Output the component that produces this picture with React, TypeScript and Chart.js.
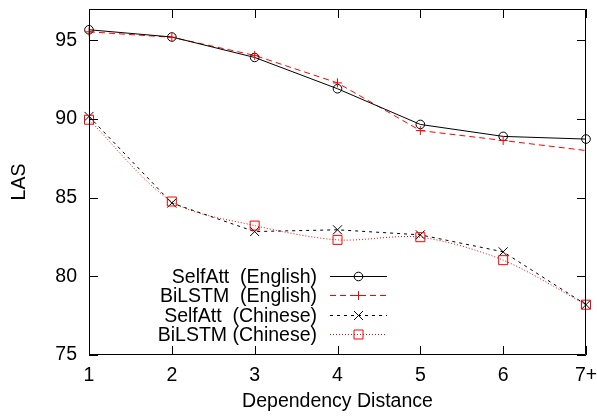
import React, { useEffect, useRef } from "react";
import { Chart, registerables } from "chart.js";

Chart.register(...registerables);

const distances = [1, 2, 3, 4, 5, 6, 7];
const xTickLabels = ["1", "2", "3", "4", "5", "6", "7+"];
const yTicks = [75, 80, 85, 90, 95];
const selfAttEnglish = [95.68, 95.22, 93.92, 91.93, 89.66, 88.9, 88.73];
const biLstmEnglish = [95.55, 95.2, 94.05, 92.3, 89.27, 88.64, 88.0];
const selfAttChinese = [90.17, 84.66, 82.85, 82.96, 82.64, 81.56, 78.2];
const biLstmChinese = [89.96, 84.76, 83.23, 82.32, 82.49, 81.03, 78.2];
const legendLabels = ["SelfAtt  (English)", "BiLSTM  (English)", "SelfAtt  (Chinese)", "BiLSTM (Chinese)"];

const FONT = "'Liberation Sans', Arial, Helvetica, sans-serif";
const FS = 19.5;
const RED = "#ff0000";
const BLACK = "#000000";

const seriesStyles = [
  { color: BLACK, dash: [] as number[], marker: "circle", data: selfAttEnglish, skip: [] as number[] },
  { color: RED, dash: [6, 4], marker: "plus", data: biLstmEnglish, skip: [6] },
  { color: BLACK, dash: [3, 4], marker: "x", data: selfAttChinese, skip: [] as number[] },
  { color: RED, dash: [1, 2], marker: "square", data: biLstmChinese, skip: [] as number[] },
];

function drawMarker(ctx: CanvasRenderingContext2D, kind: string, x: number, y: number, color: string) {
  ctx.save();
  ctx.setLineDash([]);
  ctx.strokeStyle = color;
  ctx.lineWidth = 1;
  ctx.beginPath();
  if (kind === "circle") {
    ctx.arc(x, y, 4.3, 0, Math.PI * 2);
  } else if (kind === "plus") {
    ctx.moveTo(x - 4.5, y);
    ctx.lineTo(x + 4.5, y);
    ctx.moveTo(x, y - 4.5);
    ctx.lineTo(x, y + 4.5);
  } else if (kind === "x") {
    ctx.moveTo(x - 4.5, y - 4.5);
    ctx.lineTo(x + 4.5, y + 4.5);
    ctx.moveTo(x - 4.5, y + 4.5);
    ctx.lineTo(x + 4.5, y - 4.5);
  } else {
    ctx.rect(x - 4.5, y - 4.5, 9, 9);
  }
  ctx.stroke();
  ctx.restore();
}

const framePlugin = {
  id: "gnuFrame",
  afterDatasetsDraw(chart: any) {
    const ctx: CanvasRenderingContext2D = chart.ctx;
    const { left, right, top, bottom } = chart.chartArea;
    const xs = chart.scales.x;
    const ys = chart.scales.y;
    ctx.save();
    seriesStyles.forEach((s) => {
      s.data.forEach((v, i) => {
        if (s.skip.includes(i)) return;
        drawMarker(ctx, s.marker, xs.getPixelForValue(distances[i]), ys.getPixelForValue(v), s.color);
      });
    });
    ctx.strokeStyle = BLACK;
    ctx.lineWidth = 1;
    ctx.setLineDash([]);
    ctx.beginPath();
    ctx.rect(Math.round(left) + 0.5, Math.round(top) + 0.5, Math.round(right - left) - 1, Math.round(bottom - top) - 1);
    ctx.stroke();
    const tl = 9;
    ctx.beginPath();
    yTicks.forEach((v) => {
      const y = Math.round(ys.getPixelForValue(v)) + 0.5;
      ctx.moveTo(left, y);
      ctx.lineTo(left + tl, y);
      ctx.moveTo(right, y);
      ctx.lineTo(right - tl, y);
    });
    distances.forEach((v) => {
      const x = Math.round(xs.getPixelForValue(v)) + 0.5;
      ctx.moveTo(x, bottom);
      ctx.lineTo(x, bottom - tl);
      ctx.moveTo(x, top);
      ctx.lineTo(x, top + tl);
    });
    ctx.stroke();

    ctx.fillStyle = BLACK;
    ctx.font = `${FS}px ${FONT}`;
    ctx.textAlign = "center";
    ctx.textBaseline = "alphabetic";
    ctx.fillText("Dependency Distance", (left + right) / 2, 407);
    ctx.save();
    ctx.translate(25, (top + bottom) / 2);
    ctx.rotate(-Math.PI / 2);
    ctx.fillText("LAS", 0, 0);
    ctx.restore();

    const rows = [275.5, 295, 314.5, 334];
    ctx.textAlign = "right";
    legendLabels.forEach((lab, i) => {
      const y = rows[i];
      const s = seriesStyles[i];
      ctx.fillStyle = BLACK;
      ctx.fillText(lab, 317, y + 7);
      ctx.strokeStyle = s.color;
      ctx.setLineDash(s.dash);
      ctx.beginPath();
      ctx.moveTo(330, Math.round(y) + 0.5);
      ctx.lineTo(387, Math.round(y) + 0.5);
      ctx.stroke();
      drawMarker(ctx, s.marker, 358.5, Math.round(y) + 0.5, s.color);
    });
    ctx.restore();
  },
};

export default function App() {
  const ref = useRef<HTMLCanvasElement | null>(null);
  useEffect(() => {
    if (!ref.current) return;
    const chart = new Chart(ref.current, {
      type: "line",
      data: {
        datasets: seriesStyles.map((s, i) => ({
          label: legendLabels[i],
          data: s.data.map((v, j) => ({ x: distances[j], y: v })),
          borderColor: s.color,
          borderWidth: 1,
          borderDash: s.dash,
          pointRadius: 0,
          fill: false,
          tension: i === 3 ? 0.3 : 0,
        })),
      },
      options: {
        responsive: false,
        animation: false,
        events: [],
        layout: { padding: { top: 9, right: 11, left: 0, bottom: 0 } },
        plugins: { legend: { display: false }, tooltip: { enabled: false } },
        scales: {
          x: {
            type: "linear",
            min: 1,
            max: 7,
            grid: { display: false, drawTicks: false },
            border: { display: false },
            afterBuildTicks: (scale: any) => {
              scale.ticks = distances.map((v) => ({ value: v }));
            },
            afterFit: (scale: any) => {
              scale.height = 61;
              scale.paddingLeft = 0;
              scale.paddingRight = 0;
            },
            ticks: {
              padding: 9,
              color: BLACK,
              font: { family: FONT, size: FS },
              maxRotation: 0,
              autoSkip: false,
              callback: (v: any) => xTickLabels[distances.indexOf(Number(v))] ?? "",
            },
          },
          y: {
            type: "linear",
            min: 75,
            max: 97,
            grid: { display: false, drawTicks: false },
            border: { display: false },
            afterBuildTicks: (scale: any) => {
              scale.ticks = yTicks.map((v) => ({ value: v }));
            },
            afterFit: (scale: any) => {
              scale.width = 89;
              scale.paddingTop = 0;
              scale.paddingBottom = 0;
            },
            ticks: {
              padding: 12,
              color: BLACK,
              font: { family: FONT, size: FS },
            },
          },
        },
      },
      plugins: [framePlugin],
    });
    return () => chart.destroy();
  }, []);
  return (
    <div style={{ position: "fixed", left: 0, top: 0, width: 597, height: 416, background: "#fff" }}>
      <canvas ref={ref} width={597} height={416} style={{ width: 597, height: 416, display: "block" }} />
    </div>
  );
}
